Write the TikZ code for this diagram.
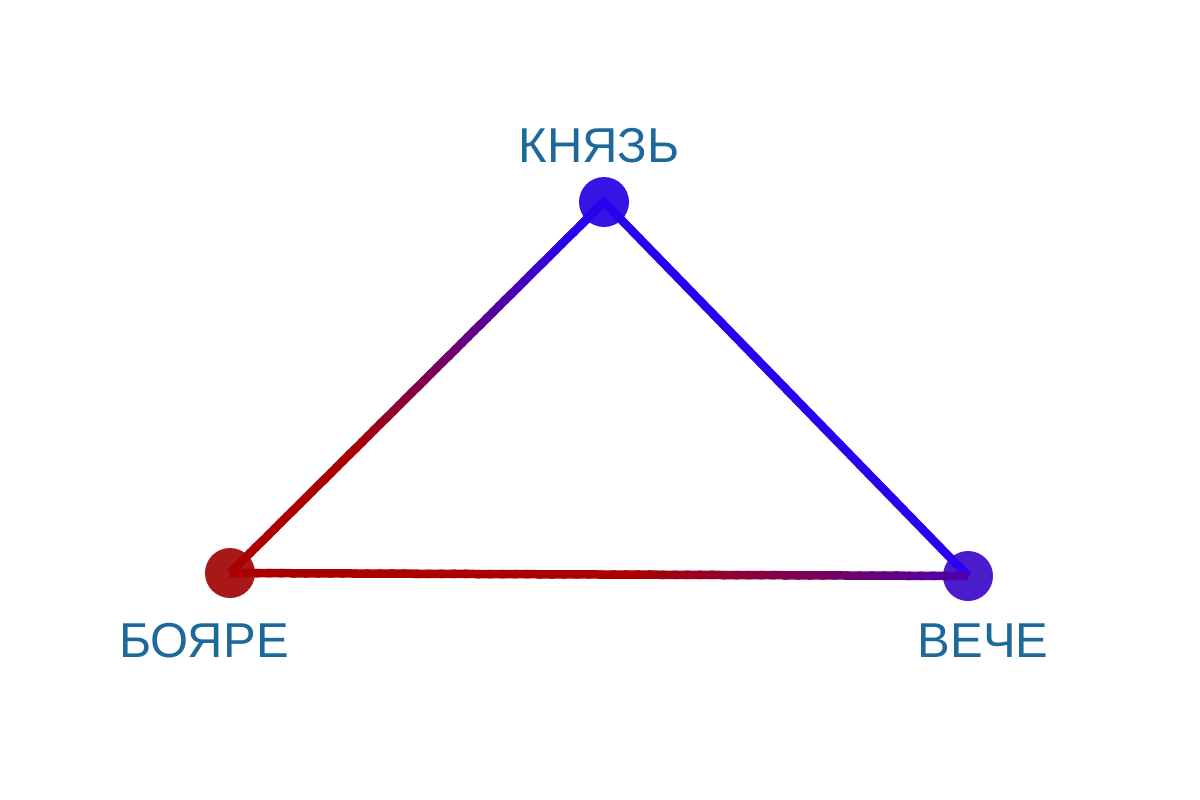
\documentclass[tikz,border=0pt]{standalone}
\usepackage{fontspec}
\setmainfont{Liberation Sans}
\usetikzlibrary{calc}
\definecolor{lred}{HTML}{AA0000}
\definecolor{lblue}{HTML}{2A00EE}
\definecolor{txt}{HTML}{1D6A9A}
\definecolor{dotK}{HTML}{3515E5}
\definecolor{dotB}{HTML}{A81818}
\definecolor{dotV}{HTML}{4A1CCC}
\begin{document}
\begin{tikzpicture}[x=1pt,y=-1pt,
  dot/.style={circle,inner sep=0pt,minimum size=50pt},
  lbl/.style={text=txt,font=\fontsize{49}{52}\selectfont,inner sep=0pt},
  edge/.style={line width=8.5pt,line cap=butt}]
\useasboundingbox[fill=white] (0,0) rectangle (1200,800);
\node[dot,fill=dotK] (K) at (604,202) {};
\node[dot,fill=dotB] (B) at (230,573) {};
\node[dot,fill=dotV] (V) at (968,576) {};
\node[lbl] (lK) at (599,146) {КНЯЗЬ};
\node[lbl] (lB) at (204,641) {БОЯРЕ};
\node[lbl] (lV) at (983,641) {ВЕЧЕ};
% right edge: blue
\draw[edge,color=lblue,line join=miter] ($(K)!0.06!(B)$) -- (K.center) -- (V.center);
% left edge: red -> blue
\foreach \i in {0,...,59}{
  \pgfmathsetmacro{\ta}{\i/60}
  \pgfmathsetmacro{\tb}{min(1,(\i+1)/60+0.006)}
  \pgfmathsetmacro{\m}{min(100,max(0,(\ta+0.0083-0.33)/0.57*100))}
  \draw[edge,color=lblue!\m!lred] ($(B)!\ta!(K)$) -- ($(B)!\tb!(K)$);
}
% bottom edge: red -> purple-blue
\foreach \i in {0,...,59}{
  \pgfmathsetmacro{\ta}{\i/60}
  \pgfmathsetmacro{\tb}{min(1,(\i+1)/60+0.006)}
  \pgfmathsetmacro{\m}{min(100,max(0,(\ta+0.0083-0.55)/0.45*72))}
  \draw[edge,color=lblue!\m!lred] ($(B)!\ta!(V)$) -- ($(B)!\tb!(V)$);
}
\end{tikzpicture}
\end{document}
